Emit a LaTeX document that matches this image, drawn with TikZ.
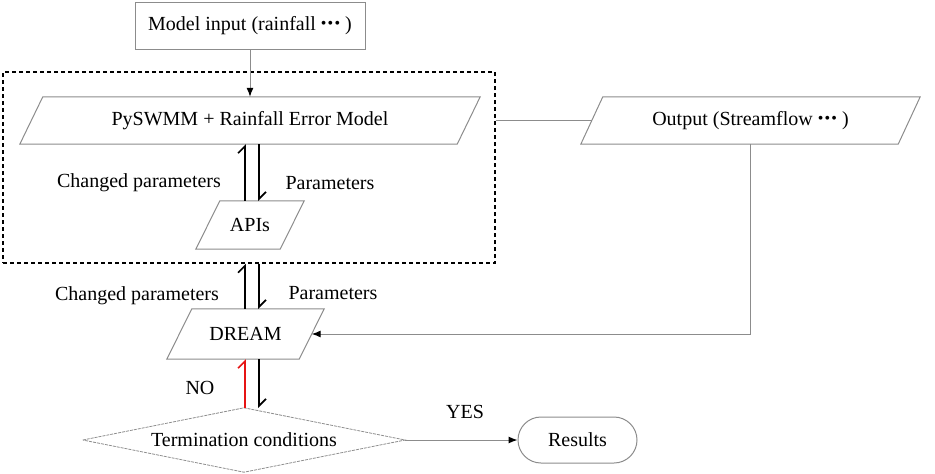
\documentclass[tikz,border=0pt]{standalone}
\usepackage{fontspec}
\setmainfont{Liberation Serif}
\usetikzlibrary{arrows.meta}
\definecolor{lg}{RGB}{140,140,140}
\definecolor{nored}{RGB}{230,20,20}
\newcommand\paralleloshape[2]{\draw[lg, line width=1pt] ([xshift=#2]#1.north west) -- (#1.north east) -- ([xshift=-#2]#1.south east) -- (#1.south west) -- cycle;}
\newcommand\dotsmine{\raisebox{1.6pt}{\fontsize{16}{16}\selectfont •\hspace{1.2pt}•\hspace{1.2pt}•}}
\begin{document}
\begin{tikzpicture}[x=1pt,y=-1pt,
  base/.style={font=\fontsize{20}{24}\selectfont, inner sep=0pt, text=black},
  gline/.style={draw=lg, line width=1pt},
  garrow/.style={gline, -{Latex[length=9pt,width=7pt,color=black]}},
  harp/.style={line width=1.6pt, -{Straight Barb[left,length=7pt,width=14pt]}},
]
\useasboundingbox (0,0) rectangle (935,474);

% dashed frame
\node[draw, dash pattern=on 4pt off 3pt, line width=1.4pt, minimum width=492pt, minimum height=191pt, inner sep=0pt] (frame) at (249,167.5) {};

% nodes
\node[base, draw=lg, line width=1pt, minimum width=230pt, minimum height=47pt] (input) at (250,25.5) {Model input (rainfall \dotsmine\ )};
\node[base, minimum width=460pt, minimum height=47pt] (pys) at (250,120.5) {PySWMM + Rainfall Error Model};
\node[base, minimum width=339pt, minimum height=47pt] (out) at (750.5,120.5) {Output (Streamflow \dotsmine\ )};
\node[base, minimum width=108pt, minimum height=48pt] (api) at (250,225) {APIs};
\node[base, minimum width=157pt, minimum height=50pt] (dream) at (245.5,334) {DREAM};
\node[base, minimum width=322pt, minimum height=64pt] (term) at (244,440) {Termination conditions};
\node[base, draw=lg, line width=1pt, rounded corners=23pt, minimum width=119pt, minimum height=46pt] (res) at (577.5,440) {Results};

\paralleloshape{pys}{23pt}
\paralleloshape{out}{22pt}
\paralleloshape{api}{24pt}
\paralleloshape{dream}{25pt}
\draw[lg, line width=0.8pt, dash pattern=on 3pt off 1pt] (term.west) -- (term.north) -- (term.east) -- (term.south) -- cycle;

% labels
\node[base] (l1) at (139,183) {Changed parameters};
\node[base] (l2) at (330,183) {Parameters};
\node[base] (l3) at (137,296) {Changed parameters};
\node[base] (l4) at (333,293) {Parameters};
\node[base] (lno) at (200,388) {NO};
\node[base] (lyes) at (465,412) {YES};

% connectors
\draw[garrow] (input.south) -- (pys.north);
\draw[harp] ([xshift=-5pt]api.north) -- ([xshift=-5pt]api.north |- pys.south);
\draw[harp] ([xshift=9pt]api.north |- pys.south) -- ([xshift=9pt]api.north);
\draw[harp] ([xshift=-0.5pt]dream.north) -- ([xshift=-0.5pt]dream.north |- frame.south);
\draw[harp] ([xshift=13.5pt]dream.north |- frame.south) -- ([xshift=13.5pt]dream.north);
\draw[harp, nored] ([xshift=1pt]term.north) -- ([xshift=1pt]term.north |- dream.south);
\draw[harp] ([xshift=15pt]term.north |- dream.south) -- ([xshift=15pt]term.north);
\draw[gline] (frame.east |- pys) -- ([xshift=11pt]out.west);
\draw[garrow] (out.south) |- ([xshift=-12.5pt]dream.east);
\draw[garrow] (term.east) -- (res.west);
\end{tikzpicture}
\end{document}
